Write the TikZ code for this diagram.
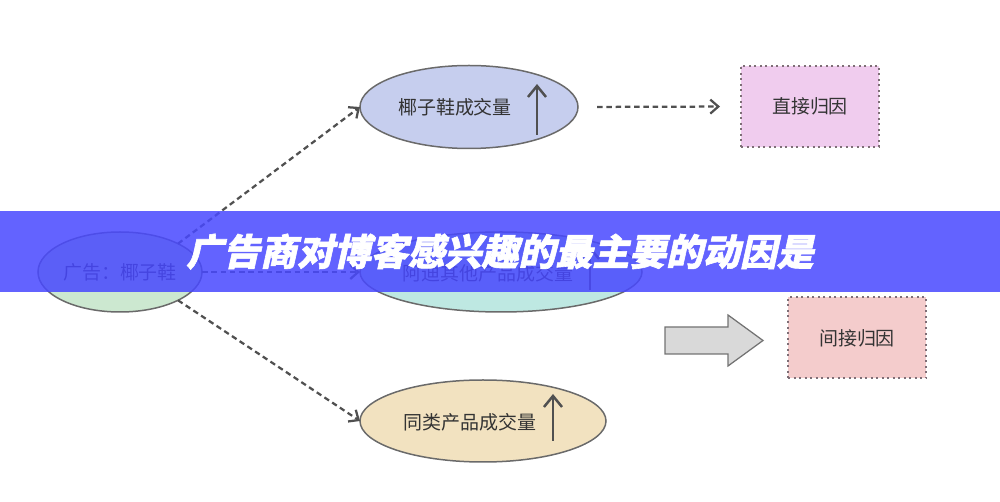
\documentclass[tikz,border=0pt]{standalone}
\usepackage{fontspec}
\newfontfamily\cjk{Noto Sans CJK SC}
\newfontfamily\cjktitle[FakeSlant=0.22, BoldFeatures={FakeBold=1.6}]{Noto Sans CJK SC}
\usepackage{tikz}
\usetikzlibrary{shapes.geometric, arrows.meta, positioning, calc}
\usepackage{xcolor}
\definecolor{linegray}{HTML}{505050}
\definecolor{ovalline}{HTML}{6A6A6A}
\definecolor{boxline}{HTML}{7E6E76}
\definecolor{adfill}{HTML}{CCE8D0}
\definecolor{salesfill}{HTML}{C6CEEE}
\definecolor{adidasfill}{HTML}{BEE8E2}
\definecolor{similarfill}{HTML}{F2E2C0}
\definecolor{directfill}{HTML}{F0CCEE}
\definecolor{indirectfill}{HTML}{F4CCCC}
\definecolor{bannerblue}{HTML}{4848FF}
\newcommand{\lbl}{\cjk\fontsize{10.8}{13}\selectfont}

\begin{document}
\begin{tikzpicture}[
  x=0.2mm, y=-0.2mm,
  oval/.style={ellipse, draw=ovalline, line width=0.3mm, outer sep=0pt},
  attrbox/.style={draw=boxline, dotted, line width=0.4mm, minimum width=27.6mm,
                  minimum height=16.2mm, font=\lbl, text=black!80},
  label/.style={font=\lbl, text=black!80, inner sep=0pt},
  dasharrow/.style={draw=linegray, line width=0.45mm, dash pattern=on 1.1mm off 0.75mm,
                    -{Straight Barb[length=1.6mm, width=2.8mm]}},
  uparrow/.style={draw=linegray, line width=0.5mm,
                  -{Straight Barb[length=2.2mm, width=3.6mm]}},
  banner/.style={fill=bannerblue, fill opacity=0.85, text opacity=1,
                 minimum width=200mm, minimum height=16.2mm, inner sep=0pt,
                 text=white, font=\cjktitle\bfseries\fontsize{21}{25}\selectfont}
]
  \useasboundingbox (0,0) rectangle (1000,502);

  % Nodes
  \node[oval, fill=adfill, minimum width=32.8mm, minimum height=16mm] (ad) at (120,272) {};
  \node[label] (adtext) at (120,272) {广告：椰子鞋};
  \node[oval, fill=salesfill, minimum width=43.6mm, minimum height=16.6mm] (sales) at (469,107) {};
  \node[label] (salestext) at (455,107) {椰子鞋成交量};
  \node[oval, fill=adidasfill, minimum width=56.4mm, minimum height=16mm] (adidas) at (501,272) {};
  \node[label] (adidastext) at (488,273) {阿迪其他产品成交量};
  \node[oval, fill=similarfill, minimum width=49.2mm, minimum height=16.4mm] (similar) at (483,421) {};
  \node[label] (similartext) at (470,422) {同类产品成交量};
  \node[attrbox, fill=directfill] (direct) at (810,106.5) {直接归因};
  \node[attrbox, fill=indirectfill] (indirect) at (857,338) {间接归因};

  % up arrows inside the ovals
  \coordinate (salesup1) at (537,135);
  \coordinate (salesup2) at (537,84);
  \coordinate (adidasup1) at (590,290);
  \coordinate (adidasup2) at (590,246);
  \coordinate (similarup1) at (553,441);
  \coordinate (similarup2) at (553,394);
  \draw[uparrow] (salesup1) -- (salesup2);
  \draw[uparrow] (adidasup1) -- (adidasup2);
  \draw[uparrow] (similarup1) -- (similarup2);

  % block arrow
  \draw[draw=black!55, fill=black!15, line width=0.25mm]
    (665,327) -- (728,327) -- (728,315) -- (763,340.5) -- (728,366)
    -- (728,354) -- (665,354) -- cycle;

  % Arrows
  \draw[dasharrow] (ad.north east) -- (sales.west);
  \draw[dasharrow] (ad.east) -- (adidas.west);
  \draw[dasharrow] (ad.south east) -- (similar.west);
  \draw[dasharrow, shorten <=3.8mm, shorten >=4mm] (sales.east) -- (direct.west);

  % title band
  \node[banner] (title) at (500,251.5) {广告商对博客感兴趣的最主要的动因是};
\end{tikzpicture}
\end{document}
